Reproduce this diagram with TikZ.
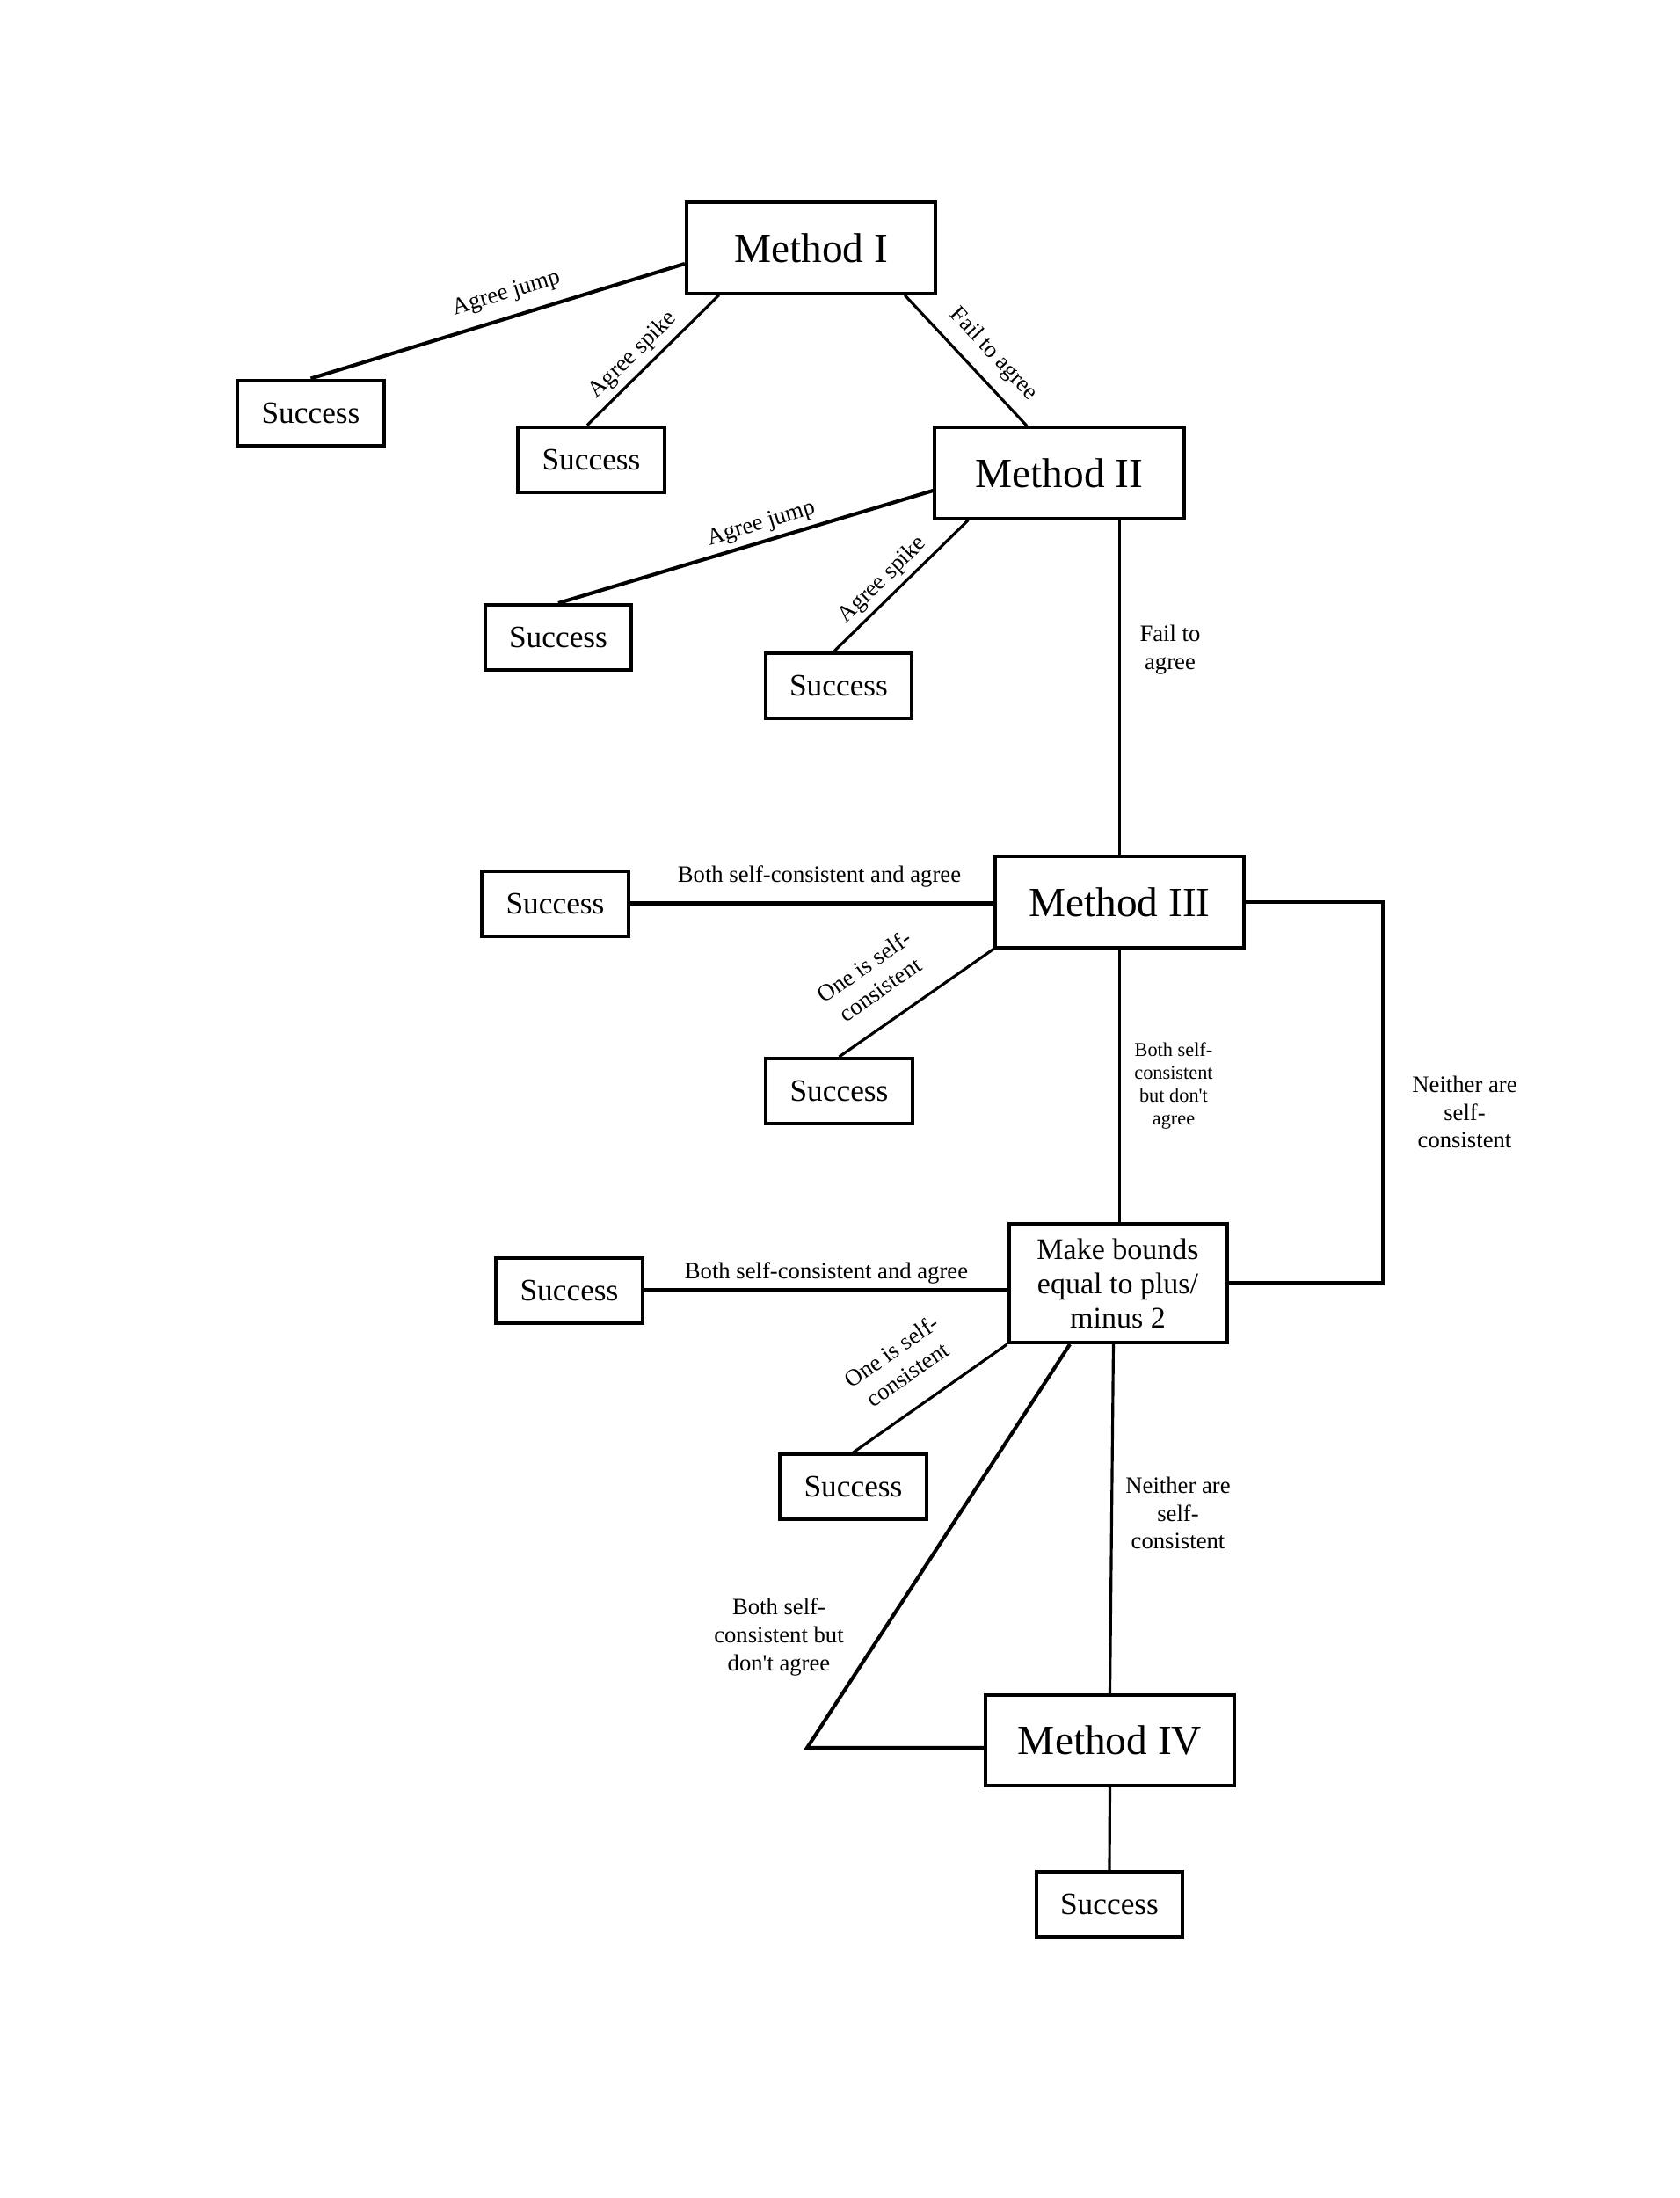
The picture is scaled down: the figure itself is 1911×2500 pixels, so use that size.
\documentclass[tikz,border=0pt]{standalone}
\usepackage{fontspec}
\newfontfamily\lserif{Liberation Serif}
\usetikzlibrary{calc}
\begin{document}
\begin{tikzpicture}[x=0.3pt,y=-0.3pt,
  box/.style={draw,line width=1.2pt,inner sep=0pt,align=center},
  method/.style={box,minimum width=85pt,minimum height=31pt,font=\lserif\fontsize{14.2}{16}\selectfont},
  succ/.style={box,minimum width=50pt,minimum height=22.2pt,font=\lserif\fontsize{10.6}{12}\selectfont},
  bounds/.style={box,minimum width=74.4pt,minimum height=40.5pt,font=\lserif\fontsize{10.2}{11.7}\selectfont},
  conn/.style={line width=0.95pt},
  heavyconn/.style={line width=1.25pt},
  lbl/.style={font=\lserif\fontsize{8}{9.5}\selectfont,align=center,inner sep=0pt},
  smalllbl/.style={font=\lserif\fontsize{6.7}{7.8}\selectfont,align=center,inner sep=0pt}]
\path[use as bounding box] (0,0) rectangle (1911,2500);

% boxes
\node[method] (m1) at (922.5,282) {Method I};
\node[method] (m2) at (1205,538) {Method II};
\node[method] (m3) at (1273.5,1026) {Method III};
\node[bounds] (mb) at (1271.5,1459.5) {Make bounds\\equal to plus/\\minus 2};
\node[method] (m4) at (1262.5,1979.5) {Method IV};

\node[succ] (sA) at (353.5,469.5) {Success};
\node[succ] (sB) at (672.5,522.5) {Success};
\node[succ] (sC) at (635,725) {Success};
\node[succ] (sD) at (954,779.5) {Success};
\node[succ] (sE) at (631.5,1027.5) {Success};
\node[succ] (sF) at (954.5,1241) {Success};
\node[succ] (sG) at (647.5,1467.5) {Success};
\node[succ] (sH) at (970.5,1691) {Success};
\node[succ] (sI) at (1262,2166) {Success};

\coordinate (k) at (918,1988);

% connectors
\draw[heavyconn] ($(m1.west)+(0,18)$) -- (sA.north);
\draw[conn] ($(m1.south west)+(39,0)$) -- ($(sB.north)+(-4.5,0)$);
\draw[conn] ($(m1.south east)+(-37,0)$) -- ($(m2.north)+(-37,0)$);

\draw[heavyconn] ($(m2.west)+(0,20)$) -- (sC.north);
\draw[conn] ($(m2.south west)+(40,0)$) -- ($(sD.north)+(-5,0)$);
\draw[conn] (m3.north |- m2.south) -- (m3.north);

\draw[heavyconn] (sE.east) -- (sE.east -| m3.west);
\draw[conn] (m3.south west) -- (sF.north);
\draw[conn] (m3.south) -- (m3.south |- mb.north);
\draw[heavyconn] (m3.east) -- ++(156,0) |- (mb.east);

\draw[heavyconn] (sG.east) -- (sG.east -| mb.west);
\draw[conn] (mb.south west) -- (sH.north);
\draw[heavyconn] ($(mb.south)+(-54.5,0)$) -- (k) -- (k -| m4.west);
\draw[conn] ($(mb.south)+(-5,0)$) -- (m4.north);
\draw[conn] (m4.south) -- (sI.north);

% labels
\node[lbl,rotate=17] (l1) at (576,334) {Agree jump};
\node[lbl,rotate=44.6] (l2) at (720,404) {Agree spike};
\node[lbl,rotate=-47] (l3) at (1130,403) {Fail to agree};
\node[lbl,rotate=17] (l4) at (866,596) {Agree jump};
\node[lbl,rotate=44.5] (l5) at (1004,660) {Agree spike};
\node[lbl] (l6) at (1331,739) {Fail to\\agree};
\node[lbl] (l7) at (932,997) {Both self-consistent and agree};
\node[lbl,rotate=35] (l8) at (992,1112) {One is self-\\consistent};
\node[smalllbl] (l9) at (1335,1235) {Both self-\\consistent\\but don't\\agree};
\node[lbl] (l10) at (1666,1265) {Neither are\\self-\\consistent};
\node[lbl] (l11) at (940,1448) {Both self-consistent and agree};
\node[lbl,rotate=35] (l12) at (1023,1550) {One is self-\\consistent};
\node[lbl] (l13) at (1340,1721) {Neither are\\self-\\consistent};
\node[lbl] (l14) at (886,1862) {Both self-\\consistent but\\don't agree};
\end{tikzpicture}
\end{document}
